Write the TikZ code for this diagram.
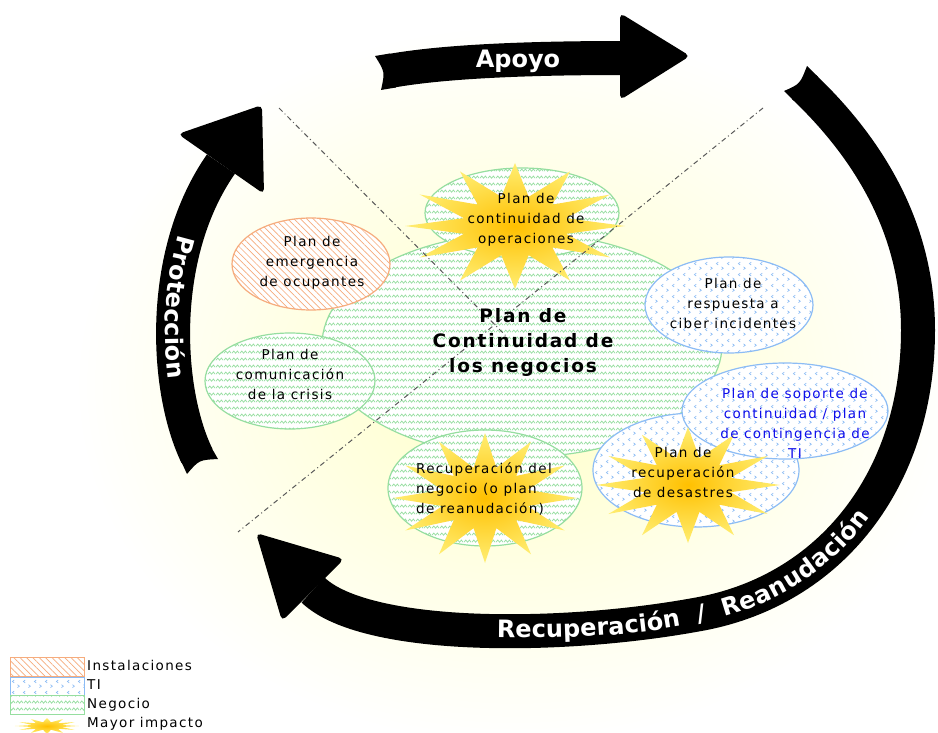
\documentclass[tikz,border=0pt]{standalone}
\usepackage{fontspec}
\setmainfont{DejaVu Sans}
\newfontfamily\pixfont[LetterSpace=10]{DejaVu Sans}
\usetikzlibrary{shapes.geometric,patterns.meta,decorations.text}
\definecolor{instc}{RGB}{246,172,125}
\definecolor{tic}{RGB}{140,188,245}
\definecolor{negc}{RGB}{150,222,160}
\definecolor{starin}{RGB}{255,192,0}
\definecolor{starout}{RGB}{255,238,115}
\definecolor{tiblue}{RGB}{12,12,235}
\tikzdeclarepattern{
  name=zig,
  type=uncolored,
  bounding box={(0pt,0pt) and (8pt,7pt)},
  tile size={(8pt,7pt)},
  code={\draw[line width=.8pt] (0pt,2pt) -- (2pt,4.5pt) -- (4pt,2pt) -- (6pt,4.5pt) -- (8pt,2pt);}
}
\tikzdeclarepattern{
  name=chev,
  type=uncolored,
  bounding box={(0pt,0pt) and (11pt,11pt)},
  tile size={(11pt,11pt)},
  code={\draw[line width=.7pt] (3.5pt,6.5pt) -- (1.5pt,8pt) -- (3.5pt,9.5pt);
        \draw[line width=.7pt] (7pt,1.5pt) -- (9pt,3pt) -- (7pt,4.5pt);}
}
\tikzset{plan/.style={ellipse,line width=1.2pt,inner sep=0pt,preaction={fill=white}},
inst/.style={draw=instc,pattern={Lines[angle=-45,distance=4.5pt,line width=.7pt]},pattern color=instc},
ti/.style={draw=tic,pattern=chev,pattern color=tic},
neg/.style={draw=negc,pattern=zig,pattern color=negc},
swatch/.style={rectangle,line width=.8pt,minimum width=74pt,inner sep=0pt,preaction={fill=white}},
txt/.style={font=\pixfont\fontsize{13.5}{20}\selectfont,align=center,inner sep=0pt},
band/.style={line width=34pt,black},
head/.style={fill=black,rounded corners=5pt},
tail/.style={fill=black},
bandlbl/.style={font=\bfseries\fontsize{24}{28}\selectfont,text=white},
cut/.style={dash pattern=on 5pt off 3pt on 1pt off 3pt,line width=1pt,black!65},
burst/.pic={\shade[inner color=starin,outer color=starout] plot[samples at={0,...,23}] (\x*15:{100-52*mod(\x,2)}) -- cycle;}}

\begin{document}
\begin{tikzpicture}[x=1pt,y=-1pt]
  \useasboundingbox (0,0) rectangle (938,733);
  \shade[inner color=yellow!22!white,outer color=white] (515,385) ellipse [x radius=440,y radius=360];
  % plans
  \node[plan,neg,minimum width=400pt,minimum height=224pt] (pcn) at (522,345) {};
  \node[plan,neg,minimum width=194pt,minimum height=90pt] (ops) at (522,213) {};
  \node[plan,neg,minimum width=170pt,minimum height=96pt] (crisis) at (290,381) {};
  \node[plan,inst,minimum width=158pt,minimum height=92pt] (ocup) at (311,264) {};
  \node[plan,ti,minimum width=168pt,minimum height=96pt] (ciber) at (729,305) {};
  \node[plan,neg,minimum width=194pt,minimum height=116pt] (reanud) at (485,488) {};
  \node[plan,ti,minimum width=206pt,minimum height=114pt] (drp) at (696,470) {};
  \node[plan,ti,minimum width=206pt,minimum height=96pt] (sop) at (785,411) {};
  % mayor impacto
  \pic[xscale=1.1,yscale=.63] (sops) at (515,226) {burst};
  \pic[xscale=.92,yscale=.65] (sreanud) at (485,498) {burst};
  \pic[xscale=.92,yscale=.58] (sdrp) at (688,485) {burst};
  % cortes
  \coordinate (c1) at (279,108);
  \coordinate (c2) at (508,338);
  \coordinate (c3) at (763,108);
  \coordinate (c4) at (238,532);
  \draw[cut] (c1) -- (c2);
  \draw[cut] (c3) -- (c4);
  % textos
  \node[txt] (opst) at (526,220) {Plan de\\continuidad de\\operaciones};
  \node[txt,font=\pixfont\bfseries\fontsize{18.5}{25}\selectfont] (pcnt) at (523,342) {Plan de\\Continuidad de\\los negocios};
  \node[txt] (ocupt) at (312,263) {Plan de\\emergencia\\de ocupantes};
  \node[txt] (crisist) at (290,374) {Plan de\\comunicación\\de la crisis};
  \node[txt] (cibert) at (733,303) {Plan de\\respuesta a\\ciber incidentes};
  \node[txt,text=tiblue] (sopt) at (795,423) {Plan de soporte de\\continuidad / plan\\de contingencia de\\TI};
  \node[txt] (drpt) at (683,472) {Plan de\\recuperación\\de desastres};
  \node[txt,align=left,anchor=west] (reanudt) at (416,489) {Recuperación del\\negocio (o plan\\de reanudación)};
  % Apoyo
  \coordinate (a0) at (390,71);
  \coordinate (a1) at (624,58);
  \draw[band] (a0) .. controls (440,62) and (520,58) .. (a1);
  \fill[tail] (396,87.5) -- (381,90) .. controls (385,72) .. (375,56) -- (390,53.5) -- cycle;
  \fill[head] (620,13) -- (690,56) -- (620,100) -- cycle;
  \node[bandlbl] (apoyo) at (518,61) {Apoyo};
  % Proteccion
  \coordinate (p0) at (197,456);
  \coordinate (p1) at (221,164);
  \draw[band] (p0) .. controls (165,390) and (158,254) .. (p1);
  \fill[tail] (210.5,446) -- (218,459) .. controls (199,460) .. (187,474) -- (180.5,460) -- cycle;
  \fill[head] (262,105) -- (178,134) -- (264,194) -- cycle;
  \path[decorate,decoration={text along path,text color=white,text align=center,raise=-8pt,
    text={|\bfseries\fontsize{24}{28}\selectfont|Protección}}] (p1) .. controls (158,254) and (165,390) .. (p0);
  % Recuperacion / Reanudacion
  \coordinate (r0) at (804,87);
  \coordinate (r1) at (918,330);
  \coordinate (r2) at (700,614);
  \coordinate (r3) at (313,590);
  \draw[band] (r0) .. controls (870,150) and (918,230) .. (r1) .. controls (918,480) and (830,590) .. (r2) .. controls (560,640) and (365,640) .. (r3);
  \fill[tail] (818,77) -- (807,66) .. controls (800,84) .. (784,91) -- (794,101) -- cycle;
  \fill[head] (256,533) -- (344,559) -- (282,621) -- cycle;
  \path[decorate,decoration={text along path,text color=white,text align={left indent=27pt},raise=-8pt,
    text={|\bfseries\fontsize{24}{28}\selectfont|Recuperación {\kern9pt/\kern9pt} Reanudación}}] (470,629) .. controls (560,632) and (640,628) .. (r2) .. controls (830,590) and (918,480) .. (r1);
  % leyenda
  \node[swatch,inst,minimum height=19pt] (lginst) at (47,667) {};
  \node[swatch,ti,minimum height=18pt] (lgti) at (47,686) {};
  \node[swatch,neg,minimum height=19pt] (lgneg) at (47,705) {};
  \pic[xscale=.32,yscale=.08] (lgstar) at (47,726) {burst};
  \node[txt,anchor=west] (lginstt) at (87,665) {Instalaciones};
  \node[txt,anchor=west] (lgtit) at (87,685) {TI};
  \node[txt,anchor=west] (lgnegt) at (87,705) {Negocio};
  \node[txt,anchor=west] (lgstart) at (87,724) {Mayor impacto};
\end{tikzpicture}
\end{document}
